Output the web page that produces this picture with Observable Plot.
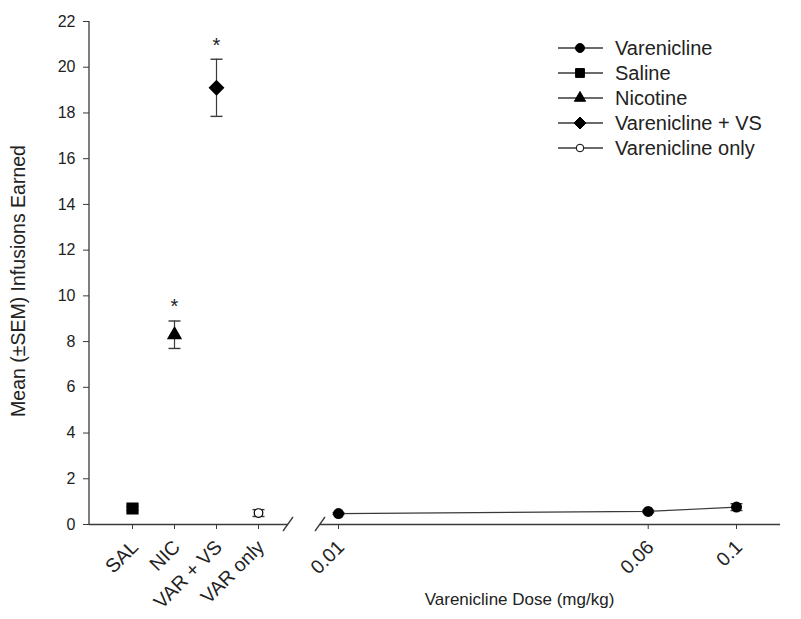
<!DOCTYPE html>
<html><head><meta charset="utf-8">
<script src="https://cdn.jsdelivr.net/npm/d3@7"></script>
<script src="https://cdn.jsdelivr.net/npm/@observablehq/plot@0.6"></script>
<style>
body{margin:0;background:#fff;font-family:"Liberation Sans",Arial,sans-serif;}
#chart{position:relative;width:801px;height:619px;overflow:hidden;background:#fff;}
#chart svg.panel{position:absolute;top:0;}
#legend{position:absolute;left:555px;top:35.5px;font-size:20px;color:#222;}
#legend .row{display:flex;align-items:center;height:25px;white-space:nowrap;}
#legend .row span{margin-left:10px;}
</style></head><body><div id="chart"></div>
<script>
// ---- data ----
const categories = ["SAL", "NIC", "VAR + VS", "VAR only"];
const catSeries = ["Saline", "Nicotine", "Varenicline + VS", "Varenicline only"];
const catMeans = [0.7, 8.3, 19.1, 0.5];
const catSem = [0.08, 0.6, 1.25, 0.15];
const significant = ["NIC", "VAR + VS"];
const doses = [0.01, 0.06, 0.1];
const doseMeans = [0.48, 0.57, 0.76];
const doseSem = [0.04, 0.05, 0.15];
const yTicks = [0, 2, 4, 6, 8, 10, 12, 14, 16, 18, 20, 22];
const legendNames = ["Varenicline", "Saline", "Nicotine", "Varenicline + VS", "Varenicline only"];
const yLabel = "Mean (±SEM) Infusions Earned";
const xLabel = "Varenicline Dose (mg/kg)";

// ---- derived tables ----
const catData = categories.map((c, i) => ({cat: c, series: catSeries[i], mean: catMeans[i], lo: catMeans[i] - catSem[i], hi: catMeans[i] + catSem[i]}));
const doseData = doses.map((d, i) => ({dose: d, mean: doseMeans[i], lo: doseMeans[i] - doseSem[i], hi: doseMeans[i] + doseSem[i]}));
const sigData = catData.filter(d => significant.includes(d.cat));

const symbolOf = {"Varenicline": "circle", "Saline": "square", "Nicotine": "triangle", "Varenicline + VS": "diamond2", "Varenicline only": "circle"};
const rOf = {"Varenicline": 5.5, "Saline": 6.2, "Nicotine": 4.9, "Varenicline + VS": 6.4, "Varenicline only": 4.3};
const cap = {draw(ctx) { ctx.moveTo(-6, 0); ctx.lineTo(6, 0); }};

const FONT = '"Liberation Sans", Arial, sans-serif';
const INK = "#222";
const LINE = "#3a3a3a";
const H = 619, MT = 21, MB = 95;
const baseStyle = {fontFamily: FONT, fontSize: "16px", color: INK, background: "transparent", overflow: "visible"};

const left = Plot.plot({
  width: 300, height: H, marginLeft: 89, marginRight: 12, marginTop: MT, marginBottom: MB,
  style: baseStyle,
  x: {type: "point", domain: categories, range: [132, 258], padding: 0},
  y: {domain: [0, 22]},
  marks: [
    Plot.ruleY([0], {stroke: LINE, strokeWidth: 1.3}),
    Plot.axisY({ticks: yTicks, tickSize: 6, tickPadding: 8, stroke: LINE, label: null, fontSize: 16}),
    Plot.axisX({tickSize: 5, tickFormat: () => "", stroke: LINE, label: null}),
    Plot.text(categories, {x: d => d, text: d => d, frameAnchor: "bottom", rotate: -45, textAnchor: "end", lineAnchor: "top", dx: -3, dy: 14, fontSize: 19.5, fill: INK}),
    Plot.text([yLabel], {frameAnchor: "left", rotate: -90, textAnchor: "middle", dx: -71, dy: 8, fontSize: 19.5, fill: INK}),
    Plot.ruleX(catData, {x: "cat", y1: "lo", y2: "hi", stroke: LINE, strokeWidth: 1.2}),
    Plot.dot(catData, {x: "cat", y: "hi", symbol: cap, stroke: LINE, strokeWidth: 1.4}),
    Plot.dot(catData, {x: "cat", y: "lo", symbol: cap, stroke: LINE, strokeWidth: 1.4}),
    ...catData.map(d => Plot.dot([d], {x: "cat", y: "mean", symbol: symbolOf[d.series], r: rOf[d.series],
      fill: d.series === "Varenicline only" ? "white" : "black", stroke: "black", strokeWidth: 1.2})),
    Plot.text(sigData, {x: "cat", y: "hi", text: () => "*", dy: -14, fontSize: 20, fill: INK})
  ]
});
left.classList.add("panel");
left.style.left = "0px";

const right = Plot.plot({
  width: 501, height: H, marginLeft: 20, marginRight: 21, marginTop: MT, marginBottom: MB,
  style: baseStyle,
  x: {type: "log", domain: [0.01, 0.1], range: [38, 436]},
  y: {domain: [0, 22], axis: null},
  marks: [
    Plot.ruleY([0], {stroke: LINE, strokeWidth: 1.3}),
    Plot.axisX({ticks: doses, tickFormat: () => "", tickSize: 5, stroke: LINE, label: null}),
    Plot.text(doses, {x: d => d, text: d => String(d), frameAnchor: "bottom", rotate: -45, textAnchor: "end", lineAnchor: "top", dx: -3, dy: 14, fontSize: 19.5, fill: INK}),
    Plot.line(doseData, {x: "dose", y: "mean", stroke: LINE, strokeWidth: 1.2}),
    Plot.ruleX(doseData, {x: "dose", y1: "lo", y2: "hi", stroke: LINE}),
    Plot.dot(doseData, {x: "dose", y: "hi", symbol: cap, stroke: LINE, strokeWidth: 1.3}),
    Plot.dot(doseData, {x: "dose", y: "lo", symbol: cap, stroke: LINE, strokeWidth: 1.3}),
    Plot.dot(doseData, {x: "dose", y: "mean", symbol: "circle", r: rOf["Varenicline"], fill: "black"}),
    Plot.text([xLabel], {frameAnchor: "bottom", dx: -31, dy: 80, fontSize: 17, fill: INK})
  ]
});
right.classList.add("panel");
right.style.left = "300px";

// axis decorations: y-axis line and axis-break slashes
const yS = left.scale("y");
const y0 = yS.apply(0), yTop = yS.apply(22);
d3.select(left).append("line").attr("x1", 89).attr("x2", 89).attr("y1", yTop).attr("y2", y0)
  .attr("stroke", LINE).attr("stroke-width", 1.3);
function slash(svg, x) {
  d3.select(svg).append("line").attr("x1", x - 5).attr("y1", y0 + 7).attr("x2", x + 5).attr("y2", y0 - 7)
    .attr("stroke", LINE).attr("stroke-width", 1.3);
}
slash(left, 300 - 12);
slash(right, 20);

const chart = document.getElementById("chart");
chart.appendChild(left);
chart.appendChild(right);

// legend
const legend = d3.select(chart).append("div").attr("id", "legend");
const d3sym = {circle: d3.symbolCircle, square: d3.symbolSquare, triangle: d3.symbolTriangle, diamond2: d3.symbolDiamond2};
const legSize = {"Varenicline": 63, "Saline": 78, "Nicotine": 55, "Varenicline + VS": 92, "Varenicline only": 45};
legendNames.forEach(name => {
  const row = legend.append("div").attr("class", "row");
  const s = row.append("svg").attr("width", 50).attr("height", 20);
  s.append("line").attr("x1", 3).attr("x2", 48).attr("y1", 10).attr("y2", 10).attr("stroke", LINE).attr("stroke-width", 1.3);
  s.append("path").attr("transform", "translate(25,10)")
    .attr("d", d3.symbol().type(d3sym[symbolOf[name]]).size(legSize[name])())
    .attr("fill", name === "Varenicline only" ? "white" : "black").attr("stroke", "black").attr("stroke-width", 1);
  row.append("span").text(name);
});
</script></body></html>
